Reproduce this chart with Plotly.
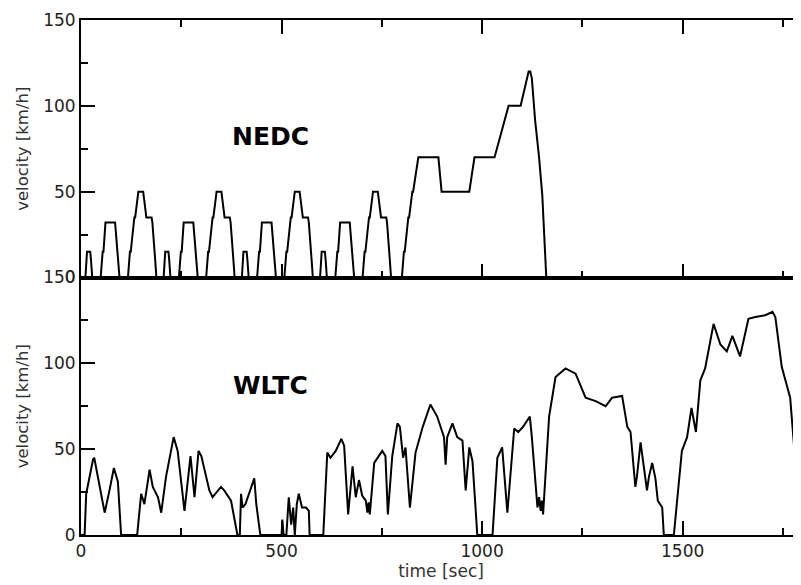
import plotly.graph_objects as go
from plotly.subplots import make_subplots

# NEDC driving cycle (time [s], velocity [km/h]) - 4x ECE-15 + EUDC
ece_t = [0, 11, 15, 23, 25, 28, 49, 54, 56, 61, 85, 93, 96, 117, 122, 124, 133, 135, 143, 155, 163, 176, 178, 185, 188, 195]
ece_v = [0, 0, 15, 15, 10, 0, 0, 15, 15, 32, 32, 10, 0, 0, 15, 15, 35, 35, 50, 50, 35, 35, 32, 10, 0, 0]
eudc_t = [780, 800, 805, 807, 816, 818, 826, 828, 841, 891, 899, 968, 981, 1031, 1066, 1096, 1116, 1120, 1124,
          1132, 1142, 1150, 1160, 1180]
eudc_v = [0, 0, 15, 15, 35, 35, 50, 50, 70, 70, 50, 50, 70, 70, 100, 100, 120, 120, 116,
          92, 70, 48, 0, 0]

# WLTC class 3 driving cycle
wltc_t = [0, 9, 13, 30, 33, 42, 59, 71, 82, 92, 100, 140, 150, 158, 171, 179, 192, 200, 212, 231,
          241, 258, 273, 283, 293, 300, 320, 328, 349, 357, 374, 390, 396, 399, 403, 410, 432, 437, 447,
          500, 502, 505, 512, 518, 524, 529, 533, 538, 543, 551, 561, 568, 570, 604,
          614, 622, 635, 649, 656, 666, 677, 685, 693, 701, 710, 714, 717, 720, 722, 731, 751, 759, 765,
          776, 789, 795, 803, 809, 820, 834, 852, 871, 888, 897, 905, 909, 913, 926, 938, 951, 959,
          968, 976, 988, 1026, 1038, 1050, 1063, 1080, 1090, 1102, 1119, 1124, 1138, 1142, 1146, 1149, 1152,
          1167, 1183, 1208, 1233, 1258, 1283, 1308, 1324, 1349, 1362, 1370, 1382, 1386, 1395, 1411, 1416,
          1424, 1432, 1438, 1449, 1453, 1478, 1498, 1511, 1522, 1533, 1544, 1556, 1577, 1594, 1610, 1624,
          1643, 1664, 1681, 1706, 1724, 1731, 1747, 1768, 1793, 1800]
wltc_v = [0, 0, 24, 44, 45, 34, 13, 26, 39, 31, 0, 0, 24, 18, 38, 28, 22, 13, 34, 57,
          49, 14, 46, 22, 49, 46, 26, 22, 28, 26, 20, 0, 0, 24, 16, 18, 33, 18, 0,
          0, 9, 0, 0, 22, 6, 16, 0, 18, 24, 16, 16, 14, 0, 0,
          48, 45, 49, 56, 52, 12, 40, 22, 32, 23, 20, 13, 19, 12, 18, 42, 49, 46, 12,
          46, 65, 63, 45, 51, 16, 48, 63, 76, 69, 63, 57, 41, 57, 65, 57, 55, 26,
          51, 43, 0, 0, 45, 51, 13, 62, 60, 63, 69, 57, 16, 22, 14, 20, 12,
          69, 92, 97, 94, 80, 78, 75, 80, 81, 63, 60, 28, 34, 54, 26, 34,
          42, 33, 20, 16, 0, 0, 49, 57, 74, 60, 90, 97, 123, 111, 107, 116,
          104, 126, 127, 128, 130, 127, 98, 80, 7, 0]

nedc_t = []
nedc_v = []
for k in range(4):
    for tt, vv in zip(ece_t, ece_v):
        nedc_t.append(tt + 195 * k)
        nedc_v.append(vv)
nedc_t += eudc_t
nedc_v += eudc_v

y_ticks = [0, 50, 100, 150]
x_ticks = [0, 500, 1000, 1500]

FAM = "DejaVu Sans, Liberation Sans, Arial, sans-serif"

fig = make_subplots(rows=2, cols=1, shared_xaxes=True, vertical_spacing=0)

fig.add_trace(go.Scatter(x=nedc_t, y=nedc_v, mode="lines",
                         line=dict(color="black", width=2), showlegend=False), row=1, col=1)
fig.add_trace(go.Scatter(x=wltc_t, y=wltc_v, mode="lines",
                         line=dict(color="black", width=2), showlegend=False), row=2, col=1)

font = dict(family=FAM, size=17, color="#222")

xcommon = dict(range=[0, 1795], showline=True, linewidth=2, linecolor="black",
               ticks="inside", ticklen=14, tickwidth=2, tickcolor="black",
               tickvals=x_ticks, showgrid=False, zeroline=False, automargin=False,
               minor=dict(ticks="inside", ticklen=7, tickwidth=2, tickcolor="black",
                          tickvals=[250, 750, 1250, 1750]),
               tickfont=font)
ycommon = dict(range=[0, 150], showline=True, linewidth=2, linecolor="black",
               ticks="inside", ticklen=14, tickwidth=2, tickcolor="black",
               tickvals=y_ticks, showgrid=False, zeroline=False, mirror=False, automargin=False,
               minor=dict(ticks="inside", ticklen=7, tickwidth=2, tickcolor="black",
                          tickvals=[25, 75, 125]),
               tickfont=font,
               title=dict(text="velocity [km/h]", font=dict(family=FAM, size=16.5, color="#333"),
                          standoff=10))

fig.update_xaxes(**xcommon)
fig.update_xaxes(mirror="ticks", showticklabels=False, row=1, col=1)
fig.update_xaxes(mirror=True, row=2, col=1,
                 title=dict(text="time [sec]", font=dict(family=FAM, size=17, color="#333"), standoff=4))
fig.update_yaxes(**ycommon)

fig.add_annotation(x=472, y=82, xref="x", yref="y", text="<b>NEDC</b>", showarrow=False,
                   font=dict(family=FAM, size=25, color="black"))
fig.add_annotation(x=472, y=87, xref="x2", yref="y2", text="<b>WLTC</b>", showarrow=False,
                   font=dict(family=FAM, size=25, color="black"))

# page body has an 8px margin; size the figure so the plot lands where the reference has it
fig.update_layout(width=793, height=577, autosize=False,
                  margin=dict(l=73, r=0, t=12, b=50),
                  plot_bgcolor="white", paper_bgcolor="white")

fig.write_html("out.html")
